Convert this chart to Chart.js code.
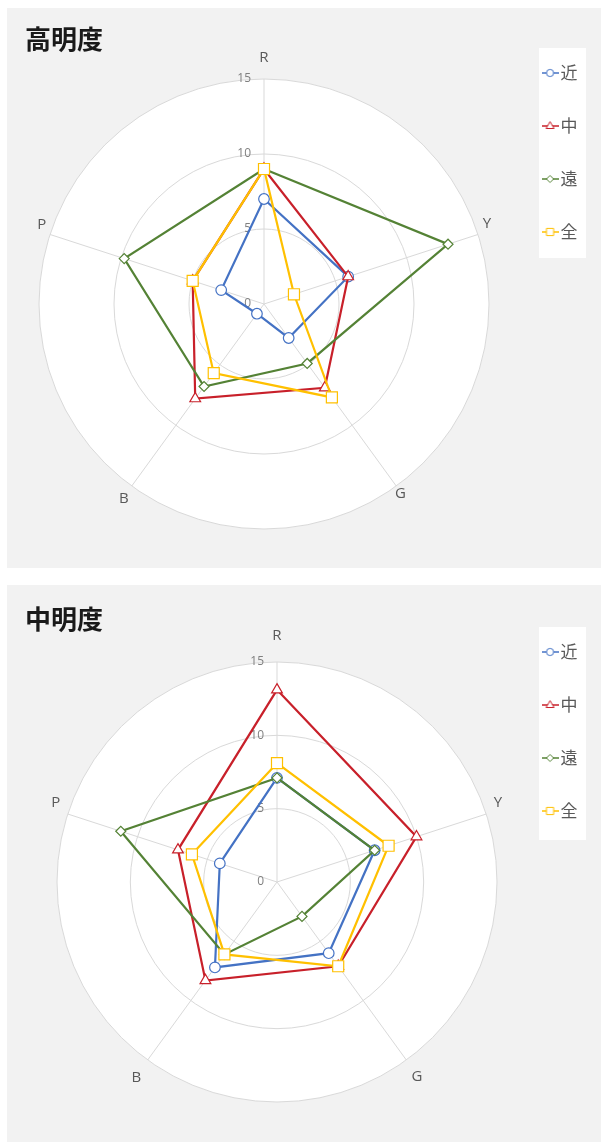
<!DOCTYPE html>
<html><head><meta charset="utf-8">
<script src="https://cdn.jsdelivr.net/npm/chart.js@4.4.1/dist/chart.umd.min.js"></script>
<style>
html,body{margin:0;padding:0;background:#fff;width:601px;height:1146px;overflow:hidden;position:relative}
canvas{position:absolute;display:block}
#c1{left:7px;top:8px}
#c2{left:7px;top:585px}
</style></head><body>
<canvas id="c1" width="594" height="560"></canvas>
<canvas id="c2" width="594" height="557"></canvas>
<script>
// ---- data ----
const categories = ['R', 'Y', 'G', 'B', 'P'];
const seriesNames = ['近', '中', '遠', '全'];
const tickValues = [0, 5, 10, 15];
const titles = ['高明度', '中明度'];

const highNear = [7.0, 5.9, 2.8, 0.8, 3.0];
const highMid  = [9.0, 5.9, 6.9, 7.8, 5.0];
const highFar  = [9.0, 12.9, 4.9, 6.8, 9.8];
const highAll  = [9.0, 2.1, 7.7, 5.7, 5.0];

const midNear = [7.1, 7.0, 6.0, 7.2, 4.1];
const midMid  = [13.1, 10.0, 7.1, 8.3, 7.1];
const midFar  = [7.1, 7.0, 2.9, 6.1, 11.2];
const midAll  = [8.1, 8.0, 7.1, 6.1, 6.1];

// ---- styles ----
const colors = ['#4472C4', '#C8202A', '#548235', '#FFC000'];
const pointStyles = ['circle', 'triangle', 'rectRot', 'rect'];
const pointRadii = [5.3, 6.2, 5, 7.8];

function legendIcon(color, style) {
  const c = document.createElement('canvas');
  c.width = 17; c.height = 12;
  const g = c.getContext('2d');
  g.strokeStyle = color; g.lineWidth = 1.5;
  g.beginPath(); g.moveTo(0, 6); g.lineTo(17, 6); g.stroke();
  g.fillStyle = '#fff'; g.lineWidth = 1;
  g.beginPath();
  const x = 8.5, y = 6, r = 3.6;
  if (style === 'circle') g.arc(x, y, r, 0, Math.PI * 2);
  else if (style === 'triangle') { g.moveTo(x, y - r - 0.8); g.lineTo(x + r + 0.4, y + r * 0.7); g.lineTo(x - r - 0.4, y + r * 0.7); g.closePath(); }
  else if (style === 'rectRot') { g.moveTo(x, y - r); g.lineTo(x + r, y); g.lineTo(x, y + r); g.lineTo(x - r, y); g.closePath(); }
  else { g.rect(x - r, y - r, 2 * r, 2 * r); }
  g.fill(); g.stroke();
  return c;
}
const legendIcons = colors.map((c, i) => legendIcon(c, pointStyles[i]));

const tickLabelPlugin = {
  id: 'tickLabels',
  beforeDatasetsDraw(chart) {
    const s = chart.scales.r, ctx = chart.ctx;
    ctx.save();
    ctx.font = '12px "Open Sans"';
    ctx.fillStyle = '#7f7f7f';
    ctx.textAlign = 'right';
    ctx.textBaseline = 'middle';
    tickValues.forEach(v => {
      const d = s.getDistanceFromCenterForValue(v);
      ctx.fillText(String(v), s.xCenter - 13, s.yCenter - d);
    });
    ctx.restore();
  }
};

function makeChart(id, cfg) {
  const bgPlugin = {
    id: 'panelBg',
    beforeDraw(chart) {
      const ctx = chart.ctx;
      ctx.save();
      ctx.fillStyle = '#f2f2f2';
      ctx.fillRect(0, 0, chart.width, chart.height);
      ctx.fillStyle = '#ffffff';
      ctx.fillRect(cfg.legendBox[0], cfg.legendBox[1], cfg.legendBox[2], cfg.legendBox[3]);
      ctx.restore();
    }
  };
  return new Chart(document.getElementById(id), {
    type: 'radar',
    data: {
      labels: categories,
      datasets: cfg.values.map((v, i) => ({
        label: seriesNames[i],
        data: v,
        borderColor: colors[i],
        backgroundColor: colors[i],
        borderWidth: 2.2,
        pointStyle: pointStyles[i],
        pointRadius: pointRadii[i],
        pointHoverRadius: pointRadii[i],
        pointBackgroundColor: '#ffffff',
        pointBorderColor: colors[i],
        pointBorderWidth: 1.2,
        fill: false,
        tension: 0,
        order: 3 - i
      }))
    },
    options: {
      responsive: false,
      animation: false,
      events: [],
      layout: { padding: { top: cfg.padTop, left: 18, right: 13.5, bottom: 0 } },
      plugins: {
        title: {
          display: true, text: cfg.title, align: 'start', color: '#1a1a1a',
          font: { family: "'Noto Sans CJK JP'", size: 26, weight: 'bold', lineHeight: '8px' },
          padding: { top: cfg.titlePadTop, bottom: 0 }
        },
        legend: {
          position: 'right', align: 'start',
          labels: {
            usePointStyle: true, pointStyleWidth: 4, padding: 36, color: '#595959',
            font: { family: "'Noto Sans CJK JP'", size: 17 },
            generateLabels(chart) {
              const items = Chart.defaults.plugins.legend.labels.generateLabels(chart);
              items.sort((a, b) => a.datasetIndex - b.datasetIndex);
              items.forEach(it => { it.pointStyle = legendIcons[it.datasetIndex]; it.fontColor = '#595959'; });
              return items;
            }
          }
        },
        tooltip: { enabled: false }
      },
      scales: {
        r: {
          min: 0, max: 15,
          ticks: { display: false, stepSize: 5 },
          grid: { circular: true, color: '#d9d9d9', lineWidth: 1 },
          angleLines: { color: '#d9d9d9', lineWidth: 1 },
          backgroundColor: '#ffffff',
          pointLabels: {
            color: '#595959',
            font: { family: "'Open Sans'", size: 15 },
            padding: (ctx) => cfg.labelPad[ctx.index]
          },
          afterSetDimensions: (s) => { s.xCenter = cfg.cx; s.yCenter = cfg.cy; s.drawingArea = cfg.radius; }
        }
      }
    },
    plugins: [bgPlugin, tickLabelPlugin]
  });
}

makeChart('c1', {
  title: titles[0],
  values: [highNear, highMid, highFar, highAll],
  cx: 257, cy: 296, radius: 225,
  padTop: 20.5, titlePadTop: 6.5,
  labelPad: [12, 5, -2, 5, 4],
  legendBox: [532, 40, 47, 210]
});
makeChart('c2', {
  title: titles[1],
  values: [midNear, midMid, midFar, midAll],
  cx: 270, cy: 297, radius: 220,
  padTop: 22.5, titlePadTop: 7.5,
  labelPad: [17, 8, 9, 11, 8],
  legendBox: [532, 42, 47, 213]
});
</script>
</body></html>
